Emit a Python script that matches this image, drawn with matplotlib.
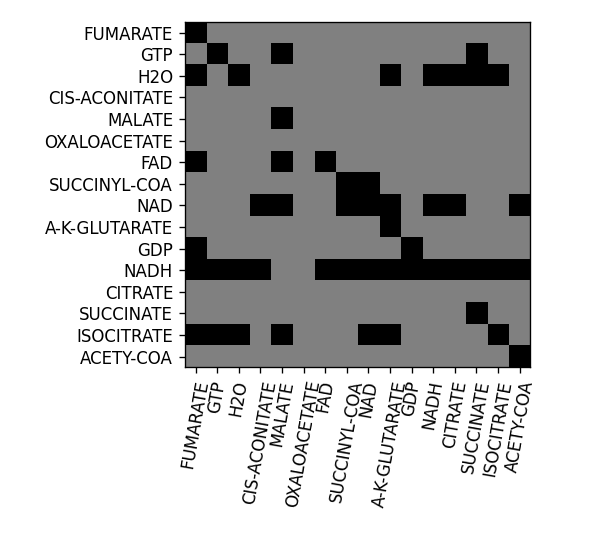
import matplotlib
matplotlib.use("Agg")
import matplotlib.pyplot as plt
import numpy as np
from matplotlib.colors import ListedColormap

# Metabolity (řádky i sloupce)
names = ["FUMARATE", "GTP", "H2O", "CIS-ACONITATE", "MALATE", "OXALOACETATE",
         "FAD", "SUCCINYL-COA", "NAD", "A-K-GLUTARATE", "GDP", "NADH",
         "CITRATE", "SUCCINATE", "ISOCITRATE", "ACETY-COA"]

# Indexy sloupců s hodnotou 1 pro každý řádek
links = [
    [0],
    [1, 4, 13],
    [0, 2, 9, 11, 12, 13, 14],
    [],
    [4],
    [],
    [0, 4, 6],
    [7, 8],
    [3, 4, 7, 8, 9, 11, 12, 15],
    [9],
    [0, 10],
    [0, 1, 2, 3, 6, 7, 8, 9, 10, 11, 12, 13, 14, 15],
    [],
    [13],
    [0, 1, 2, 4, 8, 9, 14],
    [15],
]

n = len(names)
matrix = np.zeros((n, n))
for i, cols in enumerate(links):
    matrix[i, cols] = 1

dpi = 120
fig = plt.figure(figsize=(598 / dpi, 546 / dpi), dpi=dpi)
ax = fig.add_axes([0.309, 0.327, 0.578, 0.633])
ax.imshow(matrix, cmap=ListedColormap(["#808080", "#000000"]), aspect="auto")

ax.set_xticks(range(n))
ax.set_xticklabels(names, rotation=80)
ax.set_yticks(range(n))
ax.set_yticklabels(names)

fig.savefig("out.png", dpi=dpi)
